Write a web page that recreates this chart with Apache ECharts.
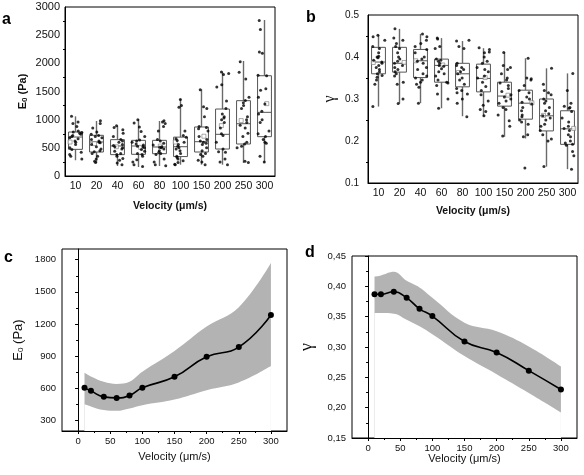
<!DOCTYPE html>
<html>
<head>
<meta charset="utf-8">
<script src="https://cdn.jsdelivr.net/npm/echarts@6/dist/echarts.min.js"></script>
<style>
html,body{margin:0;padding:0;background:#fff;}
#chart{width:584px;height:475px;}
</style>
</head>
<body>
<div id="chart"></div>
<script>
// ---------- data ----------
const velCats = ['10','20','40','60','80','100','150','200','250','300'];
const velNum = [10,20,40,60,80,100,150,200,250,300];

// Panel a: E0 (Pa) box statistics
const E0Min = [280,231,178,160,178,201,201,201,231,237];
const E0Q1  = [473,426,379,385,396,345,426,479,568,698];
const E0Med = [692,604,533,533,515,520,609,740,928,1130];
const E0Q3  = [781,722,645,633,633,690,870,1189,1337,1780];
const E0Max = [1059,976,893,1006,976,1367,1539,1851,2041,2769];
const E0Points = [
  [1060,960,930,880,800,780,770,760,740,720,700,680,660,620,600,560,500,470,420,380,350,300],
  [980,930,850,780,740,720,700,680,650,620,600,590,560,520,480,450,430,400,350,300,260,240],
  [890,860,820,760,700,650,620,600,560,540,520,500,480,440,400,380,350,310,280,230,200],
  [1000,940,870,790,700,640,620,600,570,550,530,520,500,470,440,400,380,350,290,250,200,170],
  [980,960,930,880,800,650,620,580,550,520,510,500,480,450,420,400,380,300,250,200,180],
  [1360,1250,1220,800,720,690,660,630,600,560,530,500,480,450,400,350,330,300,270,240,210,200],
  [1530,1230,1200,1050,880,860,840,800,700,650,620,600,580,560,500,450,400,380,350,280,250,200],
  [1846,1820,1800,1620,1580,1330,1200,1100,1050,1030,1000,950,850,750,720,600,480,430,420,300,250,200],
  [2030,1840,1720,1400,1340,1300,1250,1200,1050,1000,950,900,850,760,700,600,570,530,500,260,240],
  [2760,2600,2200,2180,1790,1780,1550,1520,1400,1280,1150,1100,1000,950,800,750,700,650,600,580,350,250]
];
// Panel c: mean E0 and shaded band
const E0Mean  = [603,575,519,509,531,603,706,894,984,1284];
const E0Upper = [744,710,660,640,660,753,947,1175,1356,1769];
const E0Lower = [450,430,395,388,410,441,494,581,653,806];

// Panel b: gamma box statistics
const gMin = [0.282,0.289,0.290,0.278,0.259,0.259,0.210,0.206,0.139,0.133];
const gQ1  = [0.360,0.364,0.351,0.340,0.329,0.317,0.283,0.252,0.224,0.192];
const gMed = [0.388,0.385,0.391,0.380,0.360,0.349,0.307,0.290,0.260,0.229];
const gQ3  = [0.423,0.423,0.418,0.395,0.385,0.383,0.340,0.321,0.300,0.272];
const gMax = [0.452,0.467,0.455,0.445,0.438,0.421,0.411,0.397,0.373,0.361];
const gPoints = [
  [0.452,0.448,0.440,0.425,0.420,0.410,0.402,0.400,0.398,0.392,0.388,0.385,0.380,0.375,0.370,0.365,0.360,0.356,0.352,0.345,0.335,0.282],
  [0.467,0.445,0.440,0.432,0.425,0.420,0.410,0.400,0.395,0.390,0.385,0.380,0.375,0.370,0.365,0.360,0.355,0.340,0.335,0.300,0.289],
  [0.455,0.448,0.440,0.432,0.425,0.418,0.410,0.400,0.395,0.390,0.385,0.375,0.370,0.360,0.355,0.350,0.345,0.340,0.335,0.328,0.290],
  [0.445,0.443,0.425,0.420,0.395,0.392,0.390,0.385,0.380,0.378,0.372,0.365,0.360,0.355,0.345,0.340,0.338,0.332,0.312,0.300,0.278],
  [0.440,0.438,0.425,0.420,0.385,0.380,0.375,0.370,0.365,0.360,0.350,0.345,0.335,0.325,0.320,0.315,0.312,0.300,0.290,0.258],
  [0.422,0.418,0.412,0.410,0.400,0.390,0.385,0.375,0.370,0.365,0.355,0.350,0.340,0.330,0.320,0.310,0.295,0.285,0.275,0.270,0.260],
  [0.411,0.380,0.375,0.370,0.360,0.350,0.345,0.338,0.332,0.325,0.318,0.310,0.305,0.300,0.295,0.290,0.280,0.275,0.262,0.248,0.235,0.212],
  [0.397,0.350,0.348,0.345,0.332,0.320,0.315,0.305,0.300,0.292,0.288,0.280,0.272,0.262,0.258,0.250,0.245,0.240,0.215,0.210,0.136],
  [0.373,0.335,0.320,0.315,0.310,0.300,0.295,0.290,0.280,0.272,0.265,0.260,0.255,0.250,0.240,0.235,0.225,0.215,0.205,0.200,0.139],
  [0.361,0.320,0.290,0.283,0.280,0.278,0.270,0.255,0.245,0.235,0.230,0.225,0.215,0.210,0.200,0.195,0.192,0.190,0.175,0.165,0.133]
];
// Panel d: mean gamma and shaded band
const gMean  = [0.387,0.387,0.391,0.381,0.363,0.351,0.309,0.291,0.261,0.230];
const gUpper = [0.416,0.418,0.424,0.409,0.398,0.381,0.340,0.326,0.301,0.268];
const gLower = [0.356,0.356,0.355,0.345,0.334,0.321,0.285,0.255,0.224,0.192];

// tick labels
const velTicks = [0,50,100,150,200,250,300];
const velMinorTicks = [25,75,125,175,225,275];
const e0CTicks = [300,600,900,1200,1500,1800];
const e0CMinorTicks = [450,750,1050,1350,1650];

// ---------- build ----------
const FONT = 'Liberation Sans';
const boxA = velCats.map((c,i)=>[i,E0Min[i],E0Q1[i],E0Med[i],E0Q3[i],E0Max[i]]);
const boxB = velCats.map((c,i)=>[i,gMin[i],gQ1[i],gMed[i],gQ3[i],gMax[i]]);
const ptsA = []; E0Points.forEach((arr,i)=>arr.forEach(v=>ptsA.push([i,v])));
const ptsB = []; gPoints.forEach((arr,i)=>arr.forEach(v=>ptsB.push([i,v])));
const meanA = E0Mean.map((v,i)=>[i,v]);
const meanB = gMean.map((v,i)=>[i,v]);
const pairs = (arr)=>velNum.map((x,i)=>[x,arr[i]]);

function renderBox(params, api){
  const x = api.value(0);
  const lo = api.coord([x, api.value(1)]);
  const q1 = api.coord([x, api.value(2)]);
  const md = api.coord([x, api.value(3)]);
  const q3 = api.coord([x, api.value(4)]);
  const hi = api.coord([x, api.value(5)]);
  const w = api.size([1,0])[0]*0.66;
  const cx = q1[0];
  return {type:'group', children:[
    {type:'line', shape:{x1:cx,y1:lo[1],x2:cx,y2:q1[1]}, style:{stroke:'#6a6a6a',lineWidth:1.4}},
    {type:'line', shape:{x1:cx,y1:q3[1],x2:cx,y2:hi[1]}, style:{stroke:'#6a6a6a',lineWidth:1.4}},
    {type:'rect', shape:{x:cx-w/2,y:q3[1],width:w,height:q1[1]-q3[1]}, style:{fill:'#fff',stroke:'#555',lineWidth:1}},
    {type:'line', shape:{x1:cx-w/2,y1:md[1],x2:cx+w/2,y2:md[1]}, style:{stroke:'#555',lineWidth:1}}
  ]};
}

const tickLbl = (size)=>({fontFamily:FONT,fontSize:size,color:'#111'});
const blackLine = {show:true,lineStyle:{color:'#000',width:1}};
const plain = v=>String(v);

function catX(grid, gap){
  return {type:'category',gridIndex:grid,data:velCats,boundaryGap:true,
    jitter:13, jitterOverlap:true,
    axisLine:blackLine,axisTick:{alignWithLabel:true,length:3,lineStyle:{color:'#000'}},
    axisLabel:Object.assign({margin:5,interval:0},tickLbl(10.5)),
    name:'Velocity (μm/s)',nameLocation:'middle',nameGap:gap,
    nameTextStyle:{fontFamily:FONT,fontSize:10.5,fontWeight:'bold',color:'#111'},
    splitLine:{show:false}};
}
function velX(grid, gap){
  return {type:'value',gridIndex:grid,min:-25,max:325,z:10,
    axisLine:blackLine,
    axisTick:{customValues:velTicks,length:3,lineStyle:{color:'#000'}},
    axisLabel:Object.assign({customValues:velTicks,margin:5,formatter:plain},tickLbl(9.5)),
    name:'Velocity (μm/s)',nameLocation:'middle',nameGap:gap,
    nameTextStyle:{fontFamily:FONT,fontSize:11,color:'#111'},
    splitLine:{show:false}};
}
function minorX(grid){
  return {type:'value',gridIndex:grid,min:-25,max:325,position:'bottom',z:10,
    axisLine:{show:false},axisLabel:{show:false},splitLine:{show:false},
    axisTick:{customValues:velMinorTicks,length:2,lineStyle:{color:'#000'}}};
}
// shaded band: upper curve filled grey to the axis, lower curve filled white on top
function bandSeries(xi, yi, upper, lower){
  return [
    {type:'line',xAxisIndex:xi,yAxisIndex:yi,data:pairs(upper),showSymbol:false,smooth:0.4,silent:true,
      lineStyle:{width:0,opacity:0},areaStyle:{color:'#b3b3b3',opacity:1,origin:'start'},z:1},
    {type:'line',xAxisIndex:xi,yAxisIndex:yi,data:pairs(lower),showSymbol:false,smooth:0.4,silent:true,
      lineStyle:{width:0,opacity:0},areaStyle:{color:'#ffffff',opacity:1,origin:'start'},z:2}
  ];
}

const option = {
  animation:false,
  backgroundColor:'#fff',
  grid:[
    {left:65,top:7,width:210,height:169,show:true,borderColor:'#000',borderWidth:1},
    {left:368,top:15,width:210,height:168,show:true,borderColor:'#000',borderWidth:1},
    {left:62,top:249,width:225,height:182,show:true,borderColor:'#000',borderWidth:1},
    {left:352,top:256,width:225,height:182,show:true,borderColor:'#000',borderWidth:1}
  ],
  xAxis:[ catX(0,25), catX(1,23), velX(2,20), velX(3,15), minorX(2), minorX(3) ],
  yAxis:[
    {type:'value',gridIndex:0,min:0,max:3000,interval:500,
      axisLine:blackLine,axisTick:{length:3,lineStyle:{color:'#000'}},
      minorTick:{show:true,splitNumber:2,length:2,lineStyle:{color:'#000'}},
      axisLabel:Object.assign({margin:5,formatter:plain},tickLbl(11)),splitLine:{show:false},
      name:'{e|E}{s|0}{e| (Pa)}',nameLocation:'middle',nameGap:36,
      nameTextStyle:{fontFamily:FONT,fontWeight:'bold',color:'#111',
        rich:{e:{fontFamily:FONT,fontSize:11,fontWeight:'bold',color:'#111'},
              s:{fontFamily:FONT,fontSize:8,fontWeight:'bold',color:'#111',padding:[5,0,0,0]}}}},
    {type:'value',gridIndex:1,min:0.1,max:0.5,interval:0.1,
      axisLine:blackLine,axisTick:{length:4,lineStyle:{color:'#000'}},
      minorTick:{show:true,splitNumber:2,length:2,lineStyle:{color:'#000'}},
      axisLabel:Object.assign({margin:9},tickLbl(10)),splitLine:{show:false},
      name:'γ',nameLocation:'middle',nameGap:30,
      nameTextStyle:{fontFamily:'Liberation Serif',fontSize:16,color:'#111'}},
    {type:'value',gridIndex:2,min:200,max:1900,z:10,
      axisLine:blackLine,axisTick:{customValues:e0CTicks,length:3,lineStyle:{color:'#000'}},
      axisLabel:Object.assign({customValues:e0CTicks,margin:6,formatter:plain},tickLbl(9.5)),splitLine:{show:false},
      name:'{e|E}{s|0}{e| (Pa)}',nameLocation:'middle',nameGap:37,
      nameTextStyle:{fontFamily:FONT,color:'#111',
        rich:{e:{fontFamily:FONT,fontSize:13,color:'#111'},
              s:{fontFamily:FONT,fontSize:8,color:'#111',padding:[6,0,0,0]}}}},
    {type:'value',gridIndex:3,min:0.15,max:0.45,interval:0.05,z:10,
      axisLine:blackLine,axisTick:{length:3,lineStyle:{color:'#000'}},
      minorTick:{show:true,splitNumber:2,length:2,lineStyle:{color:'#000'}},
      axisLabel:Object.assign({margin:6,formatter:v=>v.toFixed(2).replace('.',',')},tickLbl(9.5)),
      splitLine:{show:false},
      name:'γ',nameLocation:'middle',nameGap:36,
      nameTextStyle:{fontFamily:'Liberation Serif',fontSize:18,color:'#111'}},
    {type:'value',gridIndex:2,min:200,max:1900,position:'left',z:10,
      axisLine:{show:false},axisLabel:{show:false},splitLine:{show:false},
      axisTick:{customValues:e0CMinorTicks,length:2,lineStyle:{color:'#000'}}}
  ],
  graphic:[
    {type:'text',style:{text:'a',x:2,y:28,font:'bold 16px "Liberation Sans"',fill:'#000',verticalAlign:'bottom'}},
    {type:'text',style:{text:'b',x:306,y:26,font:'bold 16px "Liberation Sans"',fill:'#000',verticalAlign:'bottom'}},
    {type:'text',style:{text:'c',x:4,y:266,font:'bold 16px "Liberation Sans"',fill:'#000',verticalAlign:'bottom'}},
    {type:'text',style:{text:'d',x:305,y:261,font:'bold 16px "Liberation Sans"',fill:'#000',verticalAlign:'bottom'}}
  ],
  series:[
    {type:'custom',xAxisIndex:0,yAxisIndex:0,data:boxA,renderItem:renderBox,encode:{x:0,y:[1,2,3,4,5]},z:1,silent:true},
    {type:'scatter',xAxisIndex:0,yAxisIndex:0,data:ptsA,symbolSize:3,itemStyle:{color:'#000'},z:3},
    {type:'scatter',xAxisIndex:0,yAxisIndex:0,data:meanA,symbol:'rect',symbolSize:4,itemStyle:{color:'#fff',borderColor:'#777',borderWidth:0.8},z:2},
    {type:'custom',xAxisIndex:1,yAxisIndex:1,data:boxB,renderItem:renderBox,encode:{x:0,y:[1,2,3,4,5]},z:1,silent:true},
    {type:'scatter',xAxisIndex:1,yAxisIndex:1,data:ptsB,symbolSize:3,itemStyle:{color:'#000'},z:3},
    {type:'scatter',xAxisIndex:1,yAxisIndex:1,data:meanB,symbol:'rect',symbolSize:4,itemStyle:{color:'#fff',borderColor:'#777',borderWidth:0.8},z:2},

    ...bandSeries(2,2,E0Upper,E0Lower),
    {type:'line',xAxisIndex:2,yAxisIndex:2,data:pairs(E0Mean),
      smooth:0.5,symbol:'circle',symbolSize:6,itemStyle:{color:'#000'},lineStyle:{color:'#000',width:1.6},z:3},

    ...bandSeries(3,3,gUpper,gLower),
    {type:'line',xAxisIndex:3,yAxisIndex:3,data:pairs(gMean),
      smooth:0.5,symbol:'circle',symbolSize:6,itemStyle:{color:'#000'},lineStyle:{color:'#000',width:1.6},z:3}
  ]
};
const chart = echarts.init(document.getElementById('chart'),null,{renderer:'canvas'});
chart.setOption(option);
</script>
</body>
</html>
